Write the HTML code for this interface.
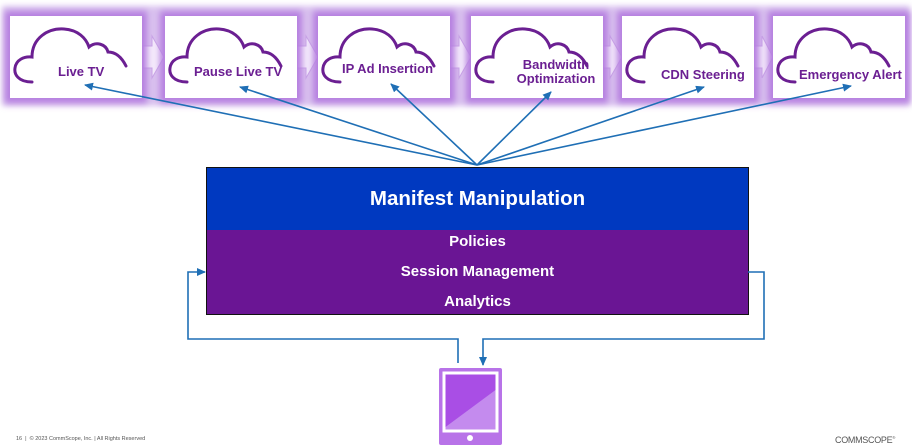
<!DOCTYPE html>
<html><head><meta charset="utf-8">
<style>
html,body{margin:0;padding:0;background:#fff;}
body{width:912px;height:448px;position:relative;overflow:hidden;font-family:"Liberation Sans",sans-serif;}
.band{position:absolute;left:2px;top:6px;width:908px;height:100px;background:#d9c2ee;filter:blur(3px);}
.box{position:absolute;top:16px;width:132px;height:82px;background:#fff;box-shadow:0 0 6px 5px #b67fe0;}
.lbl{position:absolute;color:#6b1f92;font-weight:bold;font-size:13px;text-align:center;line-height:14px;white-space:nowrap;}
.foot{position:absolute;left:16px;top:436px;font-size:5.5px;color:#555;}
.logo{position:absolute;left:835px;top:435px;font-size:9px;color:#555;letter-spacing:-0.3px;}
</style></head><body>
<div class="band"></div>
<svg width="912" height="110" style="position:absolute;left:0;top:0">
 <g fill="#f4ecfb" stroke="#c9a6e6" stroke-width="1">
  <path d="M143,46 h9 v-10 l12,21 l-12,21 v-10 h-9z"/>
  <path d="M297,46 h9 v-10 l12,21 l-12,21 v-10 h-9z"/>
  <path d="M450,46 h9 v-10 l12,21 l-12,21 v-10 h-9z"/>
  <path d="M603,46 h7 v-10 l12,21 l-12,21 v-10 h-7z"/>
  <path d="M754,46 h8 v-10 l11,21 l-11,21 v-10 h-8z"/>
 </g>
</svg>
<div class="box" style="left:10px"></div>
<div class="box" style="left:165px"></div>
<div class="box" style="left:318px"></div>
<div class="box" style="left:471px"></div>
<div class="box" style="left:622px"></div>
<div class="box" style="left:773px"></div>
<svg width="912" height="110" style="position:absolute;left:0;top:0">
 <defs>
  <path id="cl" d="M22,66 C8,66 4,58 5,52 C6,44 14,40 22,41 C22,22 38,12 54,13 C68,14 76,22 79,31 C86,25 96,28 98,36 C106,36 112,42 116,50" fill="none" stroke="#6b1f92" stroke-width="3" stroke-linecap="round"/>
 </defs>
 <use href="#cl" x="10" y="16"/>
 <use href="#cl" x="165" y="16"/>
 <use href="#cl" x="318" y="16"/>
 <use href="#cl" x="471" y="16"/>
 <use href="#cl" x="622" y="16"/>
 <use href="#cl" x="773" y="16"/>
</svg>
<div class="lbl" style="left:58px;top:65px">Live TV</div>
<div class="lbl" style="left:194px;top:65px">Pause Live TV</div>
<div class="lbl" style="left:342px;top:62px">IP Ad Insertion</div>
<div class="lbl" style="left:510px;top:58px;width:92px">Bandwidth<br>Optimization</div>
<div class="lbl" style="left:661px;top:68px">CDN Steering</div>
<div class="lbl" style="left:799px;top:68px">Emergency Alert</div>

<div style="position:absolute;left:206px;top:167px;width:541px;height:62px;background:#0039c0;border:1px solid #111;color:#fff;font-weight:bold;font-size:20.5px;text-align:center;line-height:62px;">Manifest Manipulation</div>
<div style="position:absolute;left:206px;top:230px;width:541px;height:84px;background:#6a1594;border:1px solid #111;border-top:none;color:#fff;font-weight:bold;font-size:15px;text-align:center;">
 <div style="position:absolute;top:3px;width:100%">Policies</div>
 <div style="position:absolute;top:33px;width:100%">Session Management</div>
 <div style="position:absolute;top:63px;width:100%">Analytics</div>
</div>

<svg width="912" height="448" style="position:absolute;left:0;top:0">
 <defs><marker id="a" markerUnits="userSpaceOnUse" markerWidth="9" markerHeight="8" refX="8" refY="4" orient="auto"><path d="M0,0 L9,4 L0,8z" fill="#1f6fb5"/></marker></defs>
 <g stroke="#1f6fb5" stroke-width="1.6" fill="none" marker-end="url(#a)">
  <line x1="477" y1="165" x2="85" y2="85"/>
  <line x1="477" y1="165" x2="240" y2="87"/>
  <line x1="477" y1="165" x2="391" y2="84"/>
  <line x1="477" y1="165" x2="551" y2="92"/>
  <line x1="477" y1="165" x2="704" y2="87"/>
  <line x1="477" y1="165" x2="851" y2="86"/>
  <polyline points="458,363 458,339 188,339 188,272 205,272"/>
  <polyline points="748,272 764,272 764,339 483,339 483,365"/>
 </g>
 <rect x="439" y="368" width="63" height="77" rx="2" fill="#b873e8"/>
 <rect x="444" y="373" width="53" height="58" fill="#a94ee5" stroke="#fff" stroke-width="3"/>
 <path d="M445.5,427 L495.5,390 L495.5,429.5 L445.5,429.5z" fill="#c48bee"/>
 <circle cx="470" cy="438" r="3" fill="#fff"/>
</svg>
<div class="foot">16 &nbsp;| &nbsp;© 2023 CommScope, Inc. | All Rights Reserved</div>
<div class="logo">COMMSCOPE<sup style="font-size:4px">®</sup></div>
</body></html>
